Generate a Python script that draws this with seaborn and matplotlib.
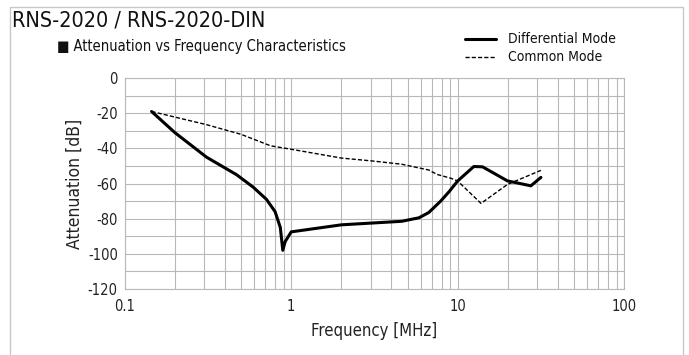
import numpy as np
import pandas as pd
import matplotlib
matplotlib.use("Agg")
import matplotlib.pyplot as plt
from matplotlib.patches import Rectangle
from matplotlib.lines import Line2D
import seaborn as sns

# values
diff_freq = [0.145, 0.2, 0.31, 0.47, 0.59, 0.71, 0.80, 0.86, 0.89, 0.92, 1.0, 2.0, 4.6, 5.85, 6.7, 7.9, 8.9, 10.0, 12.5, 14.1, 19.9, 27.5, 31.6]
diff_db = [-19, -31, -45, -55, -62, -69, -76, -85, -98, -93, -87.5, -83.5, -81.5, -79.5, -76.5, -70, -64.5, -58.5, -50.3, -50.5, -58.5, -61.3, -56.5]

cm_freq = [0.145, 0.31, 0.5, 0.75, 1.0, 2.0, 3.1, 4.6, 6.7, 7.5, 9.1, 10.0, 13.8, 19.9, 31.6]
cm_db = [-19, -26.5, -32, -38.5, -40.5, -45.5, -47.2, -49, -52.3, -54.8, -57, -58.6, -71.3, -60.5, -52.5]

yticks = [0, -20, -40, -60, -80, -100, -120]
xticks = [0.1, 1, 10, 100]
xticklabels = ["0.1", "1", "10", "100"]

sns.set_style("white")
plt.rcParams["font.family"] = ["DejaVu Sans"]
plt.rcParams["font.stretch"] = "condensed"
plt.rcParams["axes.unicode_minus"] = False

fig = plt.figure(figsize=(6.89, 3.55), dpi=100)
ax = fig.add_axes([0.181, 0.186, 0.725, 0.594])

df_d = pd.DataFrame({"f": diff_freq, "db": diff_db})
df_c = pd.DataFrame({"f": cm_freq, "db": cm_db})
sns.lineplot(data=df_d, x="f", y="db", ax=ax, color="black", lw=2.2, sort=False)
sns.lineplot(data=df_c, x="f", y="db", ax=ax, color="black", lw=1.0, ls=(0, (3, 1.5)), sort=False)

ax.set_xscale("log")
ax.set_xlim(0.1, 100)
ax.set_ylim(-120, 0)
ax.set_xticks(xticks)
ax.set_xticklabels(xticklabels)
ax.set_yticks(yticks)
ax.set_yticks(np.arange(-110, 0, 20), minor=True)
ax.grid(True, which="both", color="#b8b8b8", lw=0.8)
for s in ax.spines.values():
    s.set_color("#b8b8b8")
    s.set_linewidth(0.8)
ax.tick_params(which="both", length=0, labelsize=10.5, colors="#222222")
ax.tick_params(axis="x", pad=7)
ax.tick_params(axis="y", pad=5)
ax.set_xlabel("Frequency [MHz]", fontsize=12, color="#222222", labelpad=6)
ax.set_ylabel("Attenuation [dB]", fontsize=12.5, color="#222222", labelpad=3)

# outer frame
fig.patches.append(Rectangle((10 / 689, -0.05), 673 / 689, 1 - 7 / 355 + 0.05,
                             transform=fig.transFigure, fill=False,
                             edgecolor="#c8c8c8", lw=1.0))

fig.text(12 / 689, 1 - 21 / 355, "RNS-2020 / RNS-2020-DIN", fontsize=15.5,
         va="center", ha="left", color="#111111")
fig.text(57 / 689, 1 - 47 / 355, "\u25a0 Attenuation vs Frequency Characteristics",
         fontsize=10.5, va="center", ha="left", color="#111111")

# legend
fig.lines.append(Line2D([465 / 689, 496 / 689], [1 - 39 / 355] * 2,
                        transform=fig.transFigure, color="black", lw=2.2))
fig.lines.append(Line2D([465 / 689, 496 / 689], [1 - 57 / 355] * 2,
                        transform=fig.transFigure, color="black", lw=1.0, ls=(0, (3, 1.5))))
fig.text(508 / 689, 1 - 39 / 355, "Differential Mode", fontsize=10, va="center", color="#111111")
fig.text(508 / 689, 1 - 57 / 355, "Common Mode", fontsize=10, va="center", color="#111111")

fig.savefig("out.png", dpi=100)
